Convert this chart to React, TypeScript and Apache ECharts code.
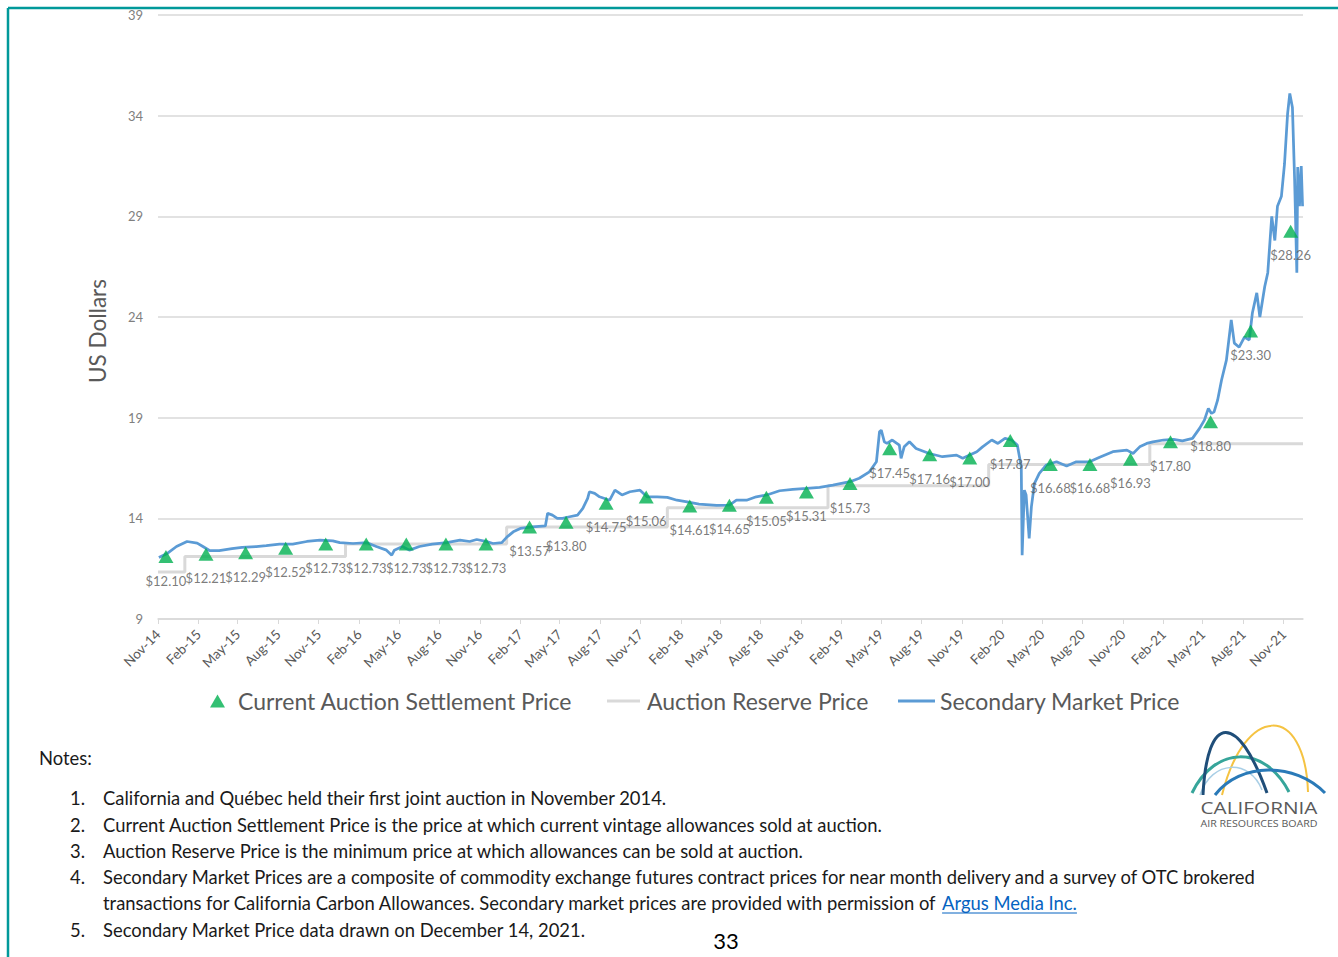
import React, { useEffect, useRef } from 'react';
import * as echarts from 'echarts';

// ---- Data ----
const secondaryDates = [
  '2014-11-03', '2014-11-23', '2014-12-13', '2015-01-06', '2015-01-29', '2015-02-11', '2015-02-26', '2015-03-20',
  '2015-04-18', '2015-05-11', '2015-06-12', '2015-07-05', '2015-08-04', '2015-09-03', '2015-10-05', '2015-11-04',
  '2015-12-03', '2015-12-19', '2016-01-18', '2016-02-19', '2016-03-11', '2016-04-03', '2016-04-15', '2016-04-21',
  '2016-05-09', '2016-05-25', '2016-06-17', '2016-07-16', '2016-08-18', '2016-09-17', '2016-10-09', '2016-10-25',
  '2016-11-17', '2016-12-01', '2016-12-21', '2017-01-02', '2017-01-16', '2017-02-01', '2017-03-01', '2017-03-30',
  '2017-04-04', '2017-04-15', '2017-04-26', '2017-05-08', '2017-05-24', '2017-06-11', '2017-06-23', '2017-07-04',
  '2017-07-08', '2017-07-20', '2017-07-31', '2017-08-23', '2017-09-04', '2017-09-20', '2017-10-08', '2017-10-31',
  '2017-11-16', '2017-12-09', '2018-01-01', '2018-01-23', '2018-02-15', '2018-03-14', '2018-04-23', '2018-05-22',
  '2018-06-07', '2018-06-30', '2018-07-22', '2018-08-15', '2018-09-13', '2018-10-13', '2018-11-14', '2018-12-13',
  '2019-01-12', '2019-02-20', '2019-03-13', '2019-04-05', '2019-04-21', '2019-04-28', '2019-05-02', '2019-05-09',
  '2019-05-15', '2019-05-27', '2019-06-12', '2019-06-16', '2019-06-23', '2019-07-05', '2019-07-20', '2019-08-19',
  '2019-09-18', '2019-10-20', '2019-11-03', '2019-12-05', '2019-12-18', '2020-01-08', '2020-01-22', '2020-02-07',
  '2020-02-22', '2020-03-06', '2020-03-15', '2020-03-17', '2020-03-22', '2020-03-26', '2020-04-02', '2020-04-07',
  '2020-04-14', '2020-04-25', '2020-05-11', '2020-06-03', '2020-06-26', '2020-07-18', '2020-08-17', '2020-09-09',
  '2020-10-09', '2020-11-10', '2020-11-24', '2020-12-09', '2020-12-25', '2021-01-08', '2021-02-01', '2021-02-24',
  '2021-03-16', '2021-04-08', '2021-04-24', '2021-05-05', '2021-05-14', '2021-05-21', '2021-05-27', '2021-06-04',
  '2021-06-13', '2021-06-24', '2021-07-05', '2021-07-12', '2021-07-23', '2021-08-04', '2021-08-15', '2021-08-22',
  '2021-09-01', '2021-09-08', '2021-09-19', '2021-09-26', '2021-10-05', '2021-10-12', '2021-10-18', '2021-10-27',
  '2021-11-03', '2021-11-10', '2021-11-15', '2021-11-21', '2021-11-26', '2021-12-01', '2021-12-03', '2021-12-07',
  '2021-12-11', '2021-12-14',
];
const secondaryPrices = [
  12.05, 12.27, 12.6, 12.85, 12.77, 12.6, 12.4, 12.4,
  12.5, 12.56, 12.6, 12.64, 12.72, 12.72, 12.85, 12.92,
  12.88, 12.79, 12.75, 12.79, 12.6, 12.42, 12.17, 12.42,
  12.6, 12.42, 12.6, 12.72, 12.79, 12.92, 12.85, 12.95,
  12.84, 12.75, 12.79, 13.08, 13.33, 13.5, 13.58, 13.62,
  14.25, 14.16, 14.0, 14.0, 14.08, 14.16, 14.49, 14.99,
  15.32, 15.24, 15.07, 14.9, 15.4, 15.16, 15.32, 15.4,
  15.07, 15.07, 15.04, 14.9, 14.82, 14.71, 14.64, 14.66,
  14.9, 14.9, 15.07, 15.16, 15.37, 15.44, 15.49, 15.54,
  15.65, 15.82, 15.99, 16.31, 16.81, 18.3, 18.38, 17.8,
  17.72, 17.89, 17.64, 16.98, 17.55, 17.8, 17.47, 17.22,
  17.06, 17.14, 16.98, 17.31, 17.55, 17.89, 17.72, 17.97,
  17.89, 17.64, 16.56, 12.17, 15.4, 15.16, 13.0, 14.57,
  15.74, 16.23, 16.65, 16.81, 16.6, 16.81, 16.81, 17.03,
  17.31, 17.39, 17.22, 17.55, 17.72, 17.8, 17.89, 17.92,
  17.85, 17.97, 18.47, 18.88, 19.46, 19.21, 19.29, 19.87,
  20.87, 21.86, 23.85, 22.7, 22.5, 23.0, 22.86, 24.2,
  25.2, 24.0, 25.5, 26.2, 29.0, 27.8, 29.5, 30.0,
  31.6, 34.1, 35.1, 34.4, 30.8, 26.2, 31.45, 29.5,
  31.5, 29.5,
];

const auctionDates = [
  '2014-11-19', '2015-02-18', '2015-05-19', '2015-08-18', '2015-11-17', '2016-02-17', '2016-05-18', '2016-08-16',
  '2016-11-15', '2017-02-22', '2017-05-16', '2017-08-15', '2017-11-14', '2018-02-21', '2018-05-22', '2018-08-14',
  '2018-11-13', '2019-02-20', '2019-05-21', '2019-08-20', '2019-11-19', '2020-02-19', '2020-05-20', '2020-08-18',
  '2020-11-18', '2021-02-17', '2021-05-19', '2021-08-18', '2021-11-17',
];
const auctionPrices = [
  12.10, 12.21, 12.29, 12.52, 12.73, 12.73, 12.73, 12.73,
  12.73, 13.57, 13.80, 14.75, 15.06, 14.61, 14.65, 15.05,
  15.31, 15.73, 17.45, 17.16, 17.00, 17.87, 16.68, 16.68,
  16.93, 17.80, 18.80, 23.30, 28.26,
];

const reserveDates = ['2014-11-01', '2015-01-01', '2016-01-01', '2017-01-01', '2018-01-01', '2019-01-01', '2020-01-01', '2021-01-01', '2021-12-15'];
const reservePrices = [11.34, 12.10, 12.73, 13.57, 14.53, 15.62, 16.68, 17.71, 17.71];

const tickDates = [
  '2014-11-01', '2015-02-01', '2015-05-01', '2015-08-01', '2015-11-01', '2016-02-01', '2016-05-01', '2016-08-01',
  '2016-11-01', '2017-02-01', '2017-05-01', '2017-08-01', '2017-11-01', '2018-02-01', '2018-05-01', '2018-08-01',
  '2018-11-01', '2019-02-01', '2019-05-01', '2019-08-01', '2019-11-01', '2020-02-01', '2020-05-01', '2020-08-01',
  '2020-11-01', '2021-02-01', '2021-05-01', '2021-08-01', '2021-11-01',
];
const tickLabels = [
  'Nov-14', 'Feb-15', 'May-15', 'Aug-15', 'Nov-15', 'Feb-16', 'May-16', 'Aug-16',
  'Nov-16', 'Feb-17', 'May-17', 'Aug-17', 'Nov-17', 'Feb-18', 'May-18', 'Aug-18',
  'Nov-18', 'Feb-19', 'May-19', 'Aug-19', 'Nov-19', 'Feb-20', 'May-20', 'Aug-20',
  'Nov-20', 'Feb-21', 'May-21', 'Aug-21', 'Nov-21',
];
const axisStart = '2014-11-01';
const axisEnd = '2021-12-15';
const yMin = 9;
const yMax = 39;
const yStep = 5;

const seriesNames = ['Current Auction Settlement Price', 'Auction Reserve Price', 'Secondary Market Price'];
const yAxisTitle = 'US Dollars';
const notesTitle = 'Notes:';
const notesNumbers = ['1.', '2.', '3.', '4.', '', '5.'];
const notesLines = [
  'California and Québec held their first joint auction in November 2014.',
  'Current Auction Settlement Price is the price at which current vintage allowances sold at auction.',
  'Auction Reserve Price is the minimum price at which allowances can be sold at auction.',
  'Secondary Market Prices are a composite of commodity exchange futures contract prices for near month delivery and a survey of OTC brokered',
  'transactions for California Carbon Allowances. Secondary market prices are provided with permission of ',
  'Secondary Market Price data drawn on December 14, 2021.',
];
const linkText = 'Argus Media Inc.';
const pageNumber = '33';
const logoTitle = 'CALIFORNIA';
const logoSubtitle = 'AIR RESOURCES BOARD';

const ts = (s: string) => {
  const [y, m, d] = s.split('-').map(Number);
  return new Date(y, m - 1, d).getTime();
};

const FONT = 'Lato, "Noto Sans", sans-serif';
const LOGO_FONT = '"Open Sans", sans-serif';

function measure(text: string, size: number) {
  const c = document.createElement('canvas').getContext('2d');
  if (!c) return text.length * size * 0.5;
  c.font = `${size}px Lato`;
  return c.measureText(text).width;
}

export default function App() {
  const ref = useRef<HTMLDivElement>(null);

  useEffect(() => {
    document.body.style.margin = '0';
    if (!ref.current) return;
    const chart = echarts.init(ref.current, null, { renderer: 'svg' });

    const tickTs = tickDates.map(ts);
    const noteSize = 18.4;
    const noteX = 103;
    const noteYs = [798, 825, 851, 877, 903, 930];
    const linkX = noteX + measure(notesLines[4], noteSize);
    const linkW = measure(linkText, noteSize);

    const noteElems: any[] = [];
    notesLines.forEach((t, i) => {
      if (notesNumbers[i]) {
        noteElems.push({
          type: 'text', x: 70, y: noteYs[i],
          style: { text: notesNumbers[i], fontSize: noteSize, fontFamily: FONT, fill: '#1a1a1a', align: 'left', verticalAlign: 'middle' },
        });
      }
      noteElems.push({
        type: 'text', x: noteX, y: noteYs[i],
        style: { text: t, fontSize: noteSize, fontFamily: FONT, fill: '#1a1a1a', align: 'left', verticalAlign: 'middle' },
      });
    });
    noteElems.push({
      type: 'text', x: linkX, y: noteYs[4],
      style: { text: linkText, fontSize: noteSize, fontFamily: FONT, fill: '#0563c1', align: 'left', verticalAlign: 'middle' },
    });
    noteElems.push({
      type: 'line', shape: { x1: linkX, y1: noteYs[4] + 10, x2: linkX + linkW, y2: noteYs[4] + 10 },
      style: { stroke: '#0563c1', lineWidth: 1 },
    });

    const arc = (x1: number, y1: number, x2: number, y2: number, c1: number, c2: number, cy: number, color: string, w: number) => ({
      type: 'bezierCurve',
      shape: { x1, y1, x2, y2, cpx1: c1, cpy1: cy, cpx2: c2, cpy2: cy },
      style: { stroke: color, lineWidth: w, fill: null },
    });

    const legendText = { fontSize: 23, fontFamily: FONT, color: '#595959', lineHeight: 26 };
    const legendBase = {
      orient: 'horizontal',
      top: 683,
      selectedMode: false,
      itemGap: 0,
    };

    chart.setOption({
      animation: false,
      backgroundColor: '#ffffff',
      textStyle: { fontFamily: FONT },
      grid: { left: 158, right: 35, top: 15, bottom: 338, containLabel: false },
      legend: [
        { ...legendBase, left: 205, data: [{ name: seriesNames[0], icon: 'triangle' }], itemWidth: 15, itemHeight: 13,
          textStyle: { ...legendText, padding: [0, 0, 0, 8] } },
        { ...legendBase, left: 602, data: [{ name: seriesNames[1], icon: 'rect' }], itemWidth: 33, itemHeight: 3,
          textStyle: { ...legendText, padding: [0, 0, 0, 2] } },
        { ...legendBase, left: 893, data: [{ name: seriesNames[2], icon: 'rect' }], itemWidth: 37, itemHeight: 3,
          textStyle: { ...legendText } },
      ],
      xAxis: {
        type: 'value',
        min: ts(axisStart),
        max: ts(axisEnd),
        axisLine: { show: true, lineStyle: { color: '#d9d9d9', width: 1.5 } },
        axisTick: { show: true, customValues: tickTs, length: 5, lineStyle: { color: '#d9d9d9', width: 1 } },
        axisLabel: {
          customValues: tickTs,
          rotate: 45,
          fontSize: 13.5,
          color: '#595959',
          fontFamily: FONT,
          margin: 13,
          formatter: (v: number) => {
            const i = tickTs.indexOf(v);
            return i >= 0 ? tickLabels[i] : '';
          },
        },
        splitLine: { show: false },
      },
      yAxis: {
        type: 'value',
        min: yMin,
        max: yMax,
        interval: yStep,
        axisLine: { show: false },
        axisTick: { show: false },
        axisLabel: { fontSize: 13, color: '#7f7f7f', margin: 15, fontFamily: FONT },
        splitLine: { show: true, lineStyle: { color: '#d9d9d9', width: 1.5 } },
      },
      series: [
        {
          name: seriesNames[1],
          type: 'line',
          step: 'end',
          data: reserveDates.map((d, i) => [ts(d), reservePrices[i]]),
          symbol: 'none',
          color: '#d9d9d9',
          lineStyle: { color: '#d9d9d9', width: 3 },
          z: 1,
        },
        {
          name: seriesNames[2],
          type: 'line',
          data: secondaryDates.map((d, i) => [ts(d), secondaryPrices[i]]),
          symbol: 'none',
          color: '#5b9bd5',
          lineStyle: { color: '#5b9bd5', width: 2.75 },
          z: 2,
        },
        {
          name: seriesNames[0],
          type: 'scatter',
          data: auctionDates.map((d, i) => [ts(d), auctionPrices[i]]),
          symbol: 'triangle',
          symbolSize: [15, 13],
          color: '#00b050',
          itemStyle: { color: '#00b050' },
          label: {
            show: true,
            position: 'bottom',
            distance: 11,
            fontSize: 13,
            color: '#595959',
            fontFamily: FONT,
            formatter: (p: any) => '$' + p.value[1].toFixed(2),
          },
          z: 3,
        },
      ],
      graphic: [
        { type: 'line', shape: { x1: 8, y1: 8, x2: 1338, y2: 8 }, style: { stroke: '#00999a', lineWidth: 2.5 } },
        { type: 'line', shape: { x1: 8, y1: 8, x2: 8, y2: 957 }, style: { stroke: '#00999a', lineWidth: 2.5 } },
        {
          type: 'text', x: 97, y: 331, rotation: Math.PI / 2,
          style: { text: yAxisTitle, fontSize: 22.5, fontFamily: FONT, fill: '#595959', align: 'center', verticalAlign: 'middle' },
        },
        {
          type: 'text', x: 39, y: 758,
          style: { text: notesTitle, fontSize: noteSize, fontFamily: FONT, fill: '#1a1a1a', align: 'left', verticalAlign: 'middle' },
        },
        ...noteElems,
        {
          type: 'text', x: 726, y: 940,
          style: { text: pageNumber, fontSize: 22, fontFamily: FONT, fill: '#000000', align: 'center', verticalAlign: 'middle' },
        },
        // logo
        arc(1222, 795, 1308, 792, 1245, 1305, 703, '#f5c342', 2),
        arc(1200, 795, 1262, 790, 1212, 1250, 759, '#a9cfe6', 1.5),
        arc(1192, 793, 1289, 792, 1215, 1265, 745, '#36a59a', 3),
        arc(1203, 795, 1267, 793, 1207, 1238, 712, '#1f4e79', 3),
        arc(1215, 795, 1325, 793, 1240, 1295, 762, '#2a7ab8', 3),
        {
          type: 'text', x: 1259, y: 808, scaleX: 1.22,
          style: { text: logoTitle, fontSize: 17, fontFamily: LOGO_FONT, fill: '#5a5a5a', align: 'center', verticalAlign: 'middle' },
        },
        {
          type: 'text', x: 1259, y: 824, scaleX: 1.25,
          style: { text: logoSubtitle, fontSize: 8.5, fontFamily: LOGO_FONT, fill: '#5a5a5a', align: 'center', verticalAlign: 'middle' },
        },
      ],
    });

    return () => chart.dispose();
  }, []);

  return <div ref={ref} style={{ width: 1338, height: 957 }} />;
}
